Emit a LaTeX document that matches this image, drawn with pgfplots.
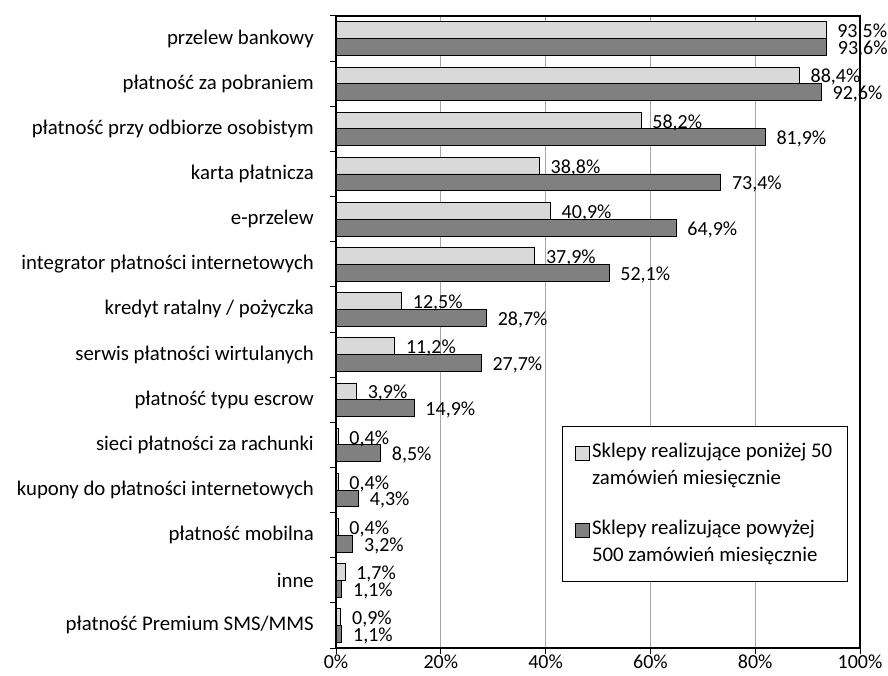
\documentclass[border=0pt]{standalone}
\usepackage{pgfplots}
\usepackage{pgfplotstable}
\pgfplotsset{compat=1.18}
\usepackage{fontspec}
\setmainfont{Carlito}
\definecolor{lightbar}{HTML}{D9D9D9}
\definecolor{darkbar}{HTML}{808080}
\definecolor{gridc}{HTML}{A6A6A6}
\pgfplotstableread{
y a b
0 93.5 93.6
1 88.4 92.6
2 58.2 81.9
3 38.8 73.4
4 40.9 64.9
5 37.9 52.1
6 12.5 28.7
7 11.2 27.7
8 3.9 14.9
9 0.4 8.5
10 0.4 4.3
11 0.4 3.2
12 1.7 1.1
13 0.9 1.1
}\data
\begin{document}
\fontsize{20.8}{25.4}\selectfont
\begin{tikzpicture}[x=1pt,y=1pt]
\path[use as bounding box] (0,0) rectangle (888,676);
\begin{axis}[
  at={(336pt,28pt)}, anchor=south west,
  scale only axis, width=524pt, height=632pt,
  xbar=0pt, bar width=16.8pt,
  xmin=0, xmax=100, ymin=-0.5, ymax=13.5, y dir=reverse,
  xtick={0,20,40,60,80,100},
  xticklabels={0\%,20\%,40\%,60\%,80\%,100\%},
  xmajorgrids, major grid style={gridc, line width=1.2pt},
  ytick={-0.5,0.5,1.5,2.5,3.5,4.5,5.5,6.5,7.5,8.5,9.5,10.5,11.5,12.5,13.5},
  y tick label as interval,
  yticklabels={przelew bankowy, płatność za pobraniem, płatność przy odbiorze osobistym, karta płatnicza\hspace{5pt}, e-przelew\hspace{3pt}, integrator płatności internetowych, kredyt ratalny / pożyczka\hspace{1pt}, serwis płatności wirtulanych\hspace{1pt}, płatność typu escrow, sieci płatności za rachunki\hspace{5pt}, kupony do płatności internetowych\hspace{5pt}, płatność mobilna\hspace{6pt}, inne, płatność Premium SMS/MMS},
  xtick pos=bottom, ytick pos=left,
  tick align=outside, major tick length=6pt,
  tick style={black, line width=1pt},
  axis line style={black, line width=1.5pt},
  yticklabel style={anchor=east, inner sep=0pt, xshift=-16pt},
  xticklabel style={anchor=north, inner sep=0pt, yshift=-1pt, font=\fontsize{20}{24}\selectfont},
  point meta=x,
  nodes near coords={\pgfmathprintnumber[fixed,fixed zerofill,precision=1,use comma,assume math mode=true]{\pgfplotspointmeta}\%},
  nodes near coords style={anchor=west, inner sep=0pt, xshift=11pt, yshift=-2pt, black, font=\fontsize{20}{24}\selectfont},
  legend image code/.code={\draw[#1, line width=0.8pt] (11pt,5pt) rectangle (25pt,19pt);},
  legend style={at={(0.431,0.3513)}, anchor=north west, draw=black, line width=0.8pt,
    font=\fontsize{20.8}{27}\selectfont,
    cells={anchor=west, align=left}, row sep=28pt, inner xsep=13pt, inner ysep=15pt},
  legend cell align=left,
]
\addplot[fill=lightbar, draw=black, line width=0.8pt, bar shift=8.4pt] table[x=a,y=y]{\data};
\addplot[fill=darkbar, draw=black, line width=0.8pt, bar shift=-8.4pt] table[x=b,y=y]{\data};
\legend{Sklepy realizujące poniżej 50\\zamówień miesięcznie, Sklepy realizujące powyżej\\500 zamówień miesięcznie}
\end{axis}
\end{tikzpicture}
\end{document}
